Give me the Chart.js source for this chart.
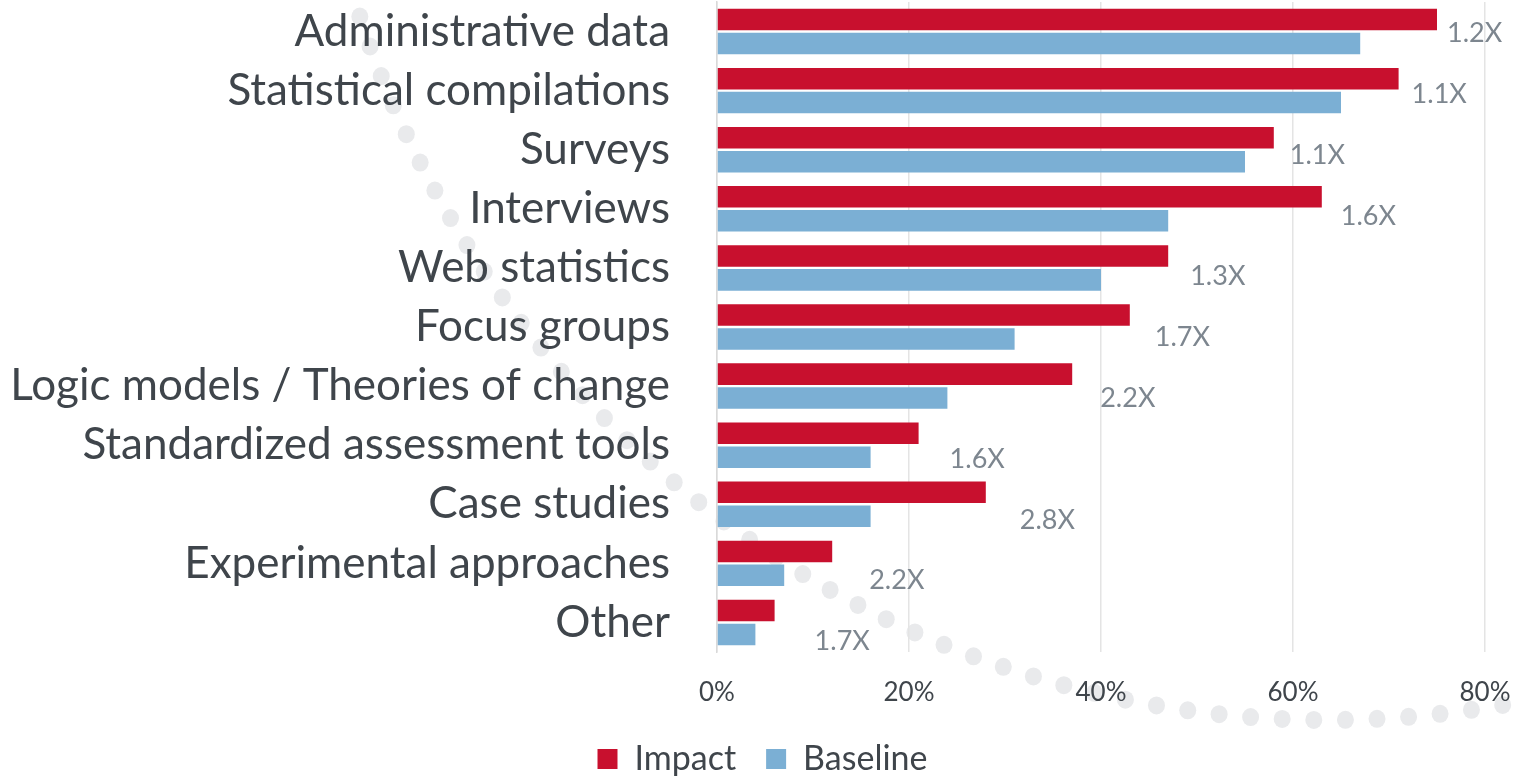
<!DOCTYPE html>
<html>
<head>
<meta charset="utf-8">
<script src="https://cdn.jsdelivr.net/npm/chart.js@4.4.1/dist/chart.umd.min.js"></script>
<style>
  html, body { margin: 0; padding: 0; background: #ffffff; }
  #wrap { width: 1513px; height: 777px; position: relative; }
</style>
</head>
<body>
<div id="wrap"><canvas id="methodsChart"></canvas></div>
<script>
// Dữ liệu biểu đồ
var categories = [
    'Administrative data', 'Statistical compilations', 'Surveys', 'Interviews',
    'Web statistics', 'Focus groups', 'Logic models / Theories of change',
    'Standardized assessment tools', 'Case studies', 'Experimental approaches', 'Other'
];
var impactValues   = [0.75, 0.71, 0.58, 0.63, 0.47, 0.43, 0.37, 0.21, 0.28, 0.12, 0.06];
var baselineValues = [0.67, 0.65, 0.55, 0.47, 0.40, 0.31, 0.24, 0.16, 0.16, 0.07, 0.04];
var ratioLabels    = ['1.2X', '1.1X', '1.1X', '1.6X', '1.3X', '1.7X', '2.2X', '1.6X', '2.8X', '2.2X', '1.7X'];
var xTicks         = [0, 0.2, 0.4, 0.6, 0.8];

var fontFamily = 'Lato, "Open Sans", sans-serif';
var textColor = '#3f454b';

// Vòng chấm tròn trang trí phía sau
const dottedArcPlugin = {
    id: 'dottedArc',
    beforeDraw(chart) {
        const ctx = chart.ctx;
        const cx = 1328, cy = -298, r = 1018;
        ctx.save();
        ctx.fillStyle = '#e9eaec';
        for (let a = 162; a >= 76; a -= 1.78) {
            const rad = a * Math.PI / 180;
            const x = cx + r * Math.cos(rad);
            const y = cy + r * Math.sin(rad);
            ctx.beginPath();
            ctx.ellipse(x, y, 8.5, 9, 0, 0, Math.PI * 2);
            ctx.fill();
        }
        ctx.restore();
    }
};

// Nhãn tỉ lệ bên phải thanh Impact
const ratioLabelPlugin = {
    id: 'ratioLabels',
    afterDatasetsDraw(chart) {
        const ctx = chart.ctx;
        const meta = chart.getDatasetMeta(0);
        const yScale = chart.scales.y;
        ctx.save();
        ctx.font = '27px ' + fontFamily;
        ctx.fillStyle = '#7d868f';
        ctx.textAlign = 'left';
        ctx.textBaseline = 'middle';
        ratioLabels.forEach((txt, i) => {
            const bar = meta.data[i];
            const x = bar.x + 10 + 3 * i;
            const y = yScale.getPixelForValue(i) + 2 + 1.7 * i;
            ctx.fillText(txt, x, y);
        });
        ctx.restore();
    }
};

// Giữ chiều cao chú thích cố định và dịch nhẹ sang phải
const legendHeightPlugin = {
    id: 'legendHeight',
    beforeLayout(chart) {
        const legend = chart.legend;
        if (legend && !legend._patched) {
            const origFit = legend.fit;
            legend.fit = function () {
                origFit.call(this);
                this.height = 65;
            };
            const origDraw = legend.draw;
            legend.draw = function () {
                const c = this.ctx;
                c.save();
                c.translate(20, 0);
                origDraw.call(this);
                c.restore();
            };
            legend._patched = true;
        }
    }
};

const ctx = document.getElementById('methodsChart').getContext('2d');
new Chart(ctx, {
    type: 'bar',
    data: {
        labels: categories,
        datasets: [
            { label: 'Impact', data: impactValues, backgroundColor: '#c8102e', categoryPercentage: 0.81, barPercentage: 0.9 },
            { label: 'Baseline', data: baselineValues, backgroundColor: '#7bafd4', categoryPercentage: 0.81, barPercentage: 0.9 }
        ]
    },
    options: {
        indexAxis: 'y',
        responsive: true,
        maintainAspectRatio: false,
        animation: false,
        layout: { padding: { left: 0, right: 28, top: 2, bottom: 0 } },
        scales: {
            x: {
                min: 0,
                max: 0.8,
                afterBuildTicks: function (scale) {
                    scale.ticks = xTicks.map(v => ({ value: v }));
                },
                afterFit: function (scale) {
                    scale.paddingLeft = 0;
                    scale.paddingRight = 0;
                    scale.height = 60;
                },
                ticks: {
                    callback: v => Math.round(v * 100) + '%',
                    font: { family: fontFamily, size: 26 },
                    color: textColor,
                    padding: 25,
                    maxRotation: 0
                },
                grid: { color: '#e4e4e4', lineWidth: 1.5, drawTicks: false },
                border: { display: false }
            },
            y: {
                afterFit: function (scale) {
                    scale.width = 717;
                    scale.paddingTop = 0;
                    scale.paddingBottom = 0;
                },
                ticks: {
                    font: { family: fontFamily, size: 44 },
                    color: textColor,
                    padding: 47
                },
                grid: { display: false, drawTicks: false },
                border: { display: true, color: '#d9d9d9', width: 1.5 }
            }
        },
        plugins: {
            legend: {
                position: 'bottom',
                labels: {
                    font: { family: fontFamily, size: 34 },
                    color: textColor,
                    boxWidth: 20,
                    boxHeight: 20,
                    padding: 30
                }
            },
            tooltip: { enabled: false }
        }
    },
    plugins: [dottedArcPlugin, ratioLabelPlugin, legendHeightPlugin]
});
</script>
</body>
</html>
